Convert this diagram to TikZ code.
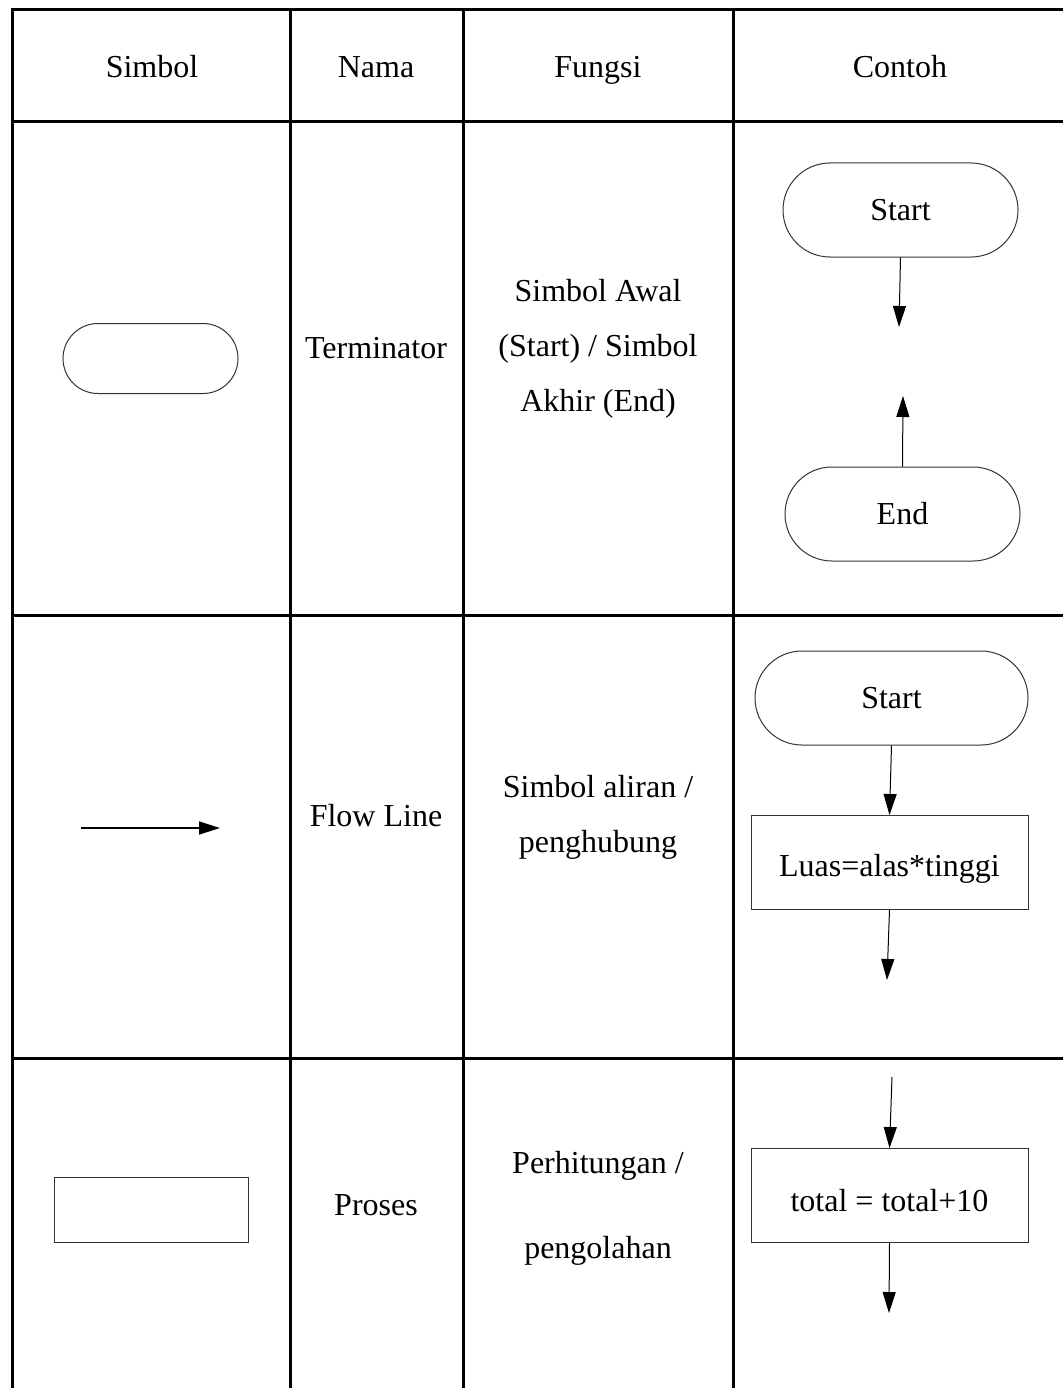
\documentclass[tikz,border=0pt]{standalone}
\usepackage{fontspec}
\setmainfont{Liberation Serif}
\usetikzlibrary{arrows.meta, positioning}

\begin{document}
\begin{tikzpicture}[x=1pt, y=-1pt,
  grid/.style={line width=3pt, black, line cap=rect},
  txt/.style={font=\fontsize{32}{55}\selectfont, align=center, inner sep=0pt},
  term/.style={rectangle, draw=black!80, line width=1pt, rounded corners=47pt, minimum width=235pt, minimum height=94pt, inner sep=0pt, font=\fontsize{32}{38}\selectfont},
  proc/.style={rectangle, draw=black!80, line width=1pt, minimum width=277pt, minimum height=94pt, inner sep=0pt, text depth=0pt, font=\fontsize{32}{38}\selectfont},
  arrow/.style={-{Triangle[length=21pt, width=13pt]}, line width=1pt, black}
]
  \useasboundingbox (0,0) rectangle (1062,1388);

  % Table grid
  \foreach \yy in {10, 122, 615, 1058}
    \draw[grid] (12,\yy) -- (1062,\yy);
  \foreach \xx in {12, 290, 463, 733}
    \draw[grid] (\xx,10) -- (\xx,1388);

  % Header
  \node[txt, anchor=base] (h-simbol) at (152,78) {Simbol};
  \node[txt, anchor=base] (h-nama) at (376,78) {Nama};
  \node[txt, anchor=base] (h-fungsi) at (598,78) {Fungsi};
  \node[txt, anchor=base] (h-contoh) at (900,78) {Contoh};

  % Row 1: Terminator
  \node[rectangle, draw=black!80, line width=1pt, rounded corners=35pt, minimum width=175pt, minimum height=70pt] (sym-term) at (150.5,358.5) {};
  \node[txt, anchor=base] (nm-term) at (376,358) {Terminator};
  \node[txt] (fn-term) at (598,349) {Simbol Awal\\(Start) / Simbol\\Akhir (End)};

  \node[term] (ex1-start) at (900.5,210) {Start};
  \node[term] (ex1-end) at (902.5,514) {End};
  \coordinate (ex1-down) at (899,327);
  \coordinate (ex1-up) at (903,396);
  \draw[arrow] (ex1-start.south) -- (ex1-down);
  \draw[arrow] (ex1-end.north) -- (ex1-up);

  % Row 2: Flow Line
  \coordinate (fl-a) at (81,828);
  \coordinate (fl-b) at (220,828);
  \draw[arrow, line width=1.6pt] (fl-a) -- (fl-b);
  \node[txt, anchor=base] (nm-flow) at (376,826) {Flow Line};
  \node[txt] (fn-flow) at (598,817) {Simbol aliran /\\penghubung};

  \node[term, minimum width=273pt] (ex2-start) at (891.5,698) {Start};
  \node[proc, text height=27pt] (ex2-box) at (889.5,862.5) {Luas=alas*tinggi};
  \coordinate (ex2-down) at (887,980);
  \draw[arrow] (ex2-start.south) -- (ex2-box.north);
  \draw[arrow] (ex2-box.south) -- (ex2-down);

  % Row 3: Proses
  \node[rectangle, draw=black!80, line width=1pt, minimum width=194pt, minimum height=65pt] (sym-proc) at (151,1209.5) {};
  \node[txt, anchor=base] (nm-proc) at (376,1215) {Proses};
  \node[txt] (fn-proc) at (598,1208) {Perhitungan /\\[30pt]pengolahan};

  \coordinate (ex3-in) at (892,1077);
  \node[proc, text height=31pt] (ex3-box) at (889.5,1195.5) {total = total+10};
  \coordinate (ex3-down) at (889,1313);
  \draw[arrow] (ex3-in) -- (ex3-box.north);
  \draw[arrow] (ex3-box.south) -- (ex3-down);
\end{tikzpicture}
\end{document}
